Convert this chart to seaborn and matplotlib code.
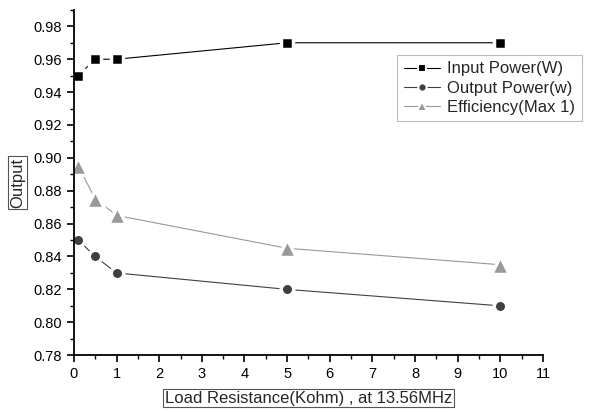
import pandas as pd
import numpy as np
import matplotlib
matplotlib.use("Agg")
import matplotlib.pyplot as plt
import seaborn as sns
from matplotlib.ticker import MultipleLocator, FormatStrFormatter

# ---- DATA ----
load_kohm = [0.1, 0.5, 1, 5, 10]
input_power = [0.95, 0.96, 0.96, 0.97, 0.97]
output_power = [0.85, 0.84, 0.83, 0.82, 0.81]
efficiency = [0.895, 0.875, 0.865, 0.845, 0.835]

series_names = ["Input Power(W)", "Output Power(w)", "Efficiency(Max 1)"]

df = pd.DataFrame({
    "x": load_kohm * 3,
    "y": input_power + output_power + efficiency,
    "series": np.repeat(series_names, len(load_kohm)),
})

palette = {
    "Input Power(W)": "#000000",
    "Output Power(w)": "#404040",
    "Efficiency(Max 1)": "#999999",
}
markers = {
    "Input Power(W)": "s",
    "Output Power(w)": "o",
    "Efficiency(Max 1)": "^",
}
marker_sizes = {"s": 8.5, "o": 9, "^": 12.5}
legend_marker_sizes = {"s": 5.5, "o": 6, "^": 7.5}

sns.set_style("ticks")
plt.rcParams["font.family"] = ["Liberation Sans", "DejaVu Sans"]

fig = plt.figure(figsize=(5.96, 4.12), dpi=100)
ax = fig.add_axes([0.124, 0.138, 0.787, 0.838])

# white marker edges leave the small gap between line and marker (Origin look)
sns.lineplot(
    data=df, x="x", y="y", hue="series", style="series",
    palette=palette, markers=markers, dashes=False,
    hue_order=series_names, style_order=series_names,
    linewidth=0.8, markeredgewidth=2.5,
    markeredgecolor="white", ax=ax,
)
for line in ax.lines:
    if line.get_marker() in marker_sizes:
        line.set_markersize(marker_sizes[line.get_marker()])

ax.set_xlim(0, 11)
ax.set_ylim(0.78, 0.99)
ax.xaxis.set_major_locator(MultipleLocator(1))
ax.xaxis.set_minor_locator(MultipleLocator(0.5))
ax.yaxis.set_major_locator(MultipleLocator(0.02))
ax.yaxis.set_minor_locator(MultipleLocator(0.01))
ax.yaxis.set_major_formatter(FormatStrFormatter("%.2f"))

for side in ["top", "right"]:
    ax.spines[side].set_visible(False)
for side in ["left", "bottom"]:
    ax.spines[side].set_linewidth(1.3)
    ax.spines[side].set_color("black")

ax.tick_params(which="major", direction="out", length=5, width=1.2, labelsize=10.5, colors="black")
ax.tick_params(which="minor", direction="out", length=3, width=1.0, colors="black")

box = dict(boxstyle="square,pad=0.1", facecolor="white", edgecolor="#555555", linewidth=0.8)
ax.set_xlabel("Load Resistance(Kohm) , at 13.56MHz", fontsize=12, bbox=box, labelpad=7)
ax.set_ylabel("Output", fontsize=12, bbox=box, labelpad=6)

leg = ax.legend(
    loc="upper left", bbox_to_anchor=(0.689, 0.87), borderaxespad=0, fontsize=12,
    frameon=True, fancybox=False, edgecolor="#bbbbbb", framealpha=1,
    handlelength=2.2, handletextpad=0.4, borderpad=0.4, labelspacing=0.25,
)
leg.get_frame().set_linewidth(0.8)
for h in leg.legend_handles:
    h.set_markersize(legend_marker_sizes[h.get_marker()])
    h.set_markeredgewidth(1.5)
    h.set_markeredgecolor("white")

fig.savefig("out.png", dpi=100)
